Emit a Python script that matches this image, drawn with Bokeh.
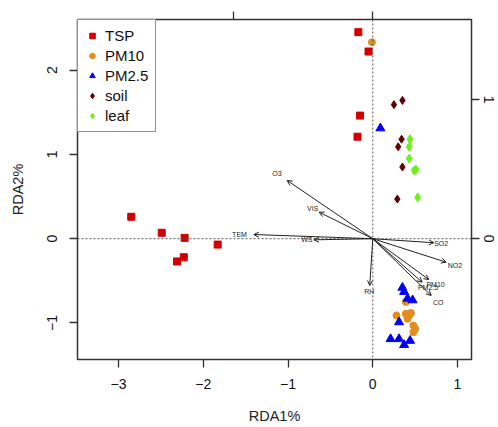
from bokeh.plotting import figure
from bokeh.models import (Range1d, LinearAxis, FixedTicker, Span, Arrow, OpenHead,
                          ColumnDataSource, Legend, LegendItem, LabelSet)
from bokeh.core.properties import value
from bokeh.embed import file_html
from bokeh.resources import INLINE

# ---- site scores (RDA1, RDA2) ----
tsp_x = [-0.17, -0.05, -0.15, -0.18, -2.85, -2.49, -2.22, -2.23, -2.31, -1.83]
tsp_y = [2.45, 2.22, 1.46, 1.21, 0.26, 0.07, 0.01, -0.22, -0.27, -0.07]

pm10_x = [-0.01, 0.39, 0.28, 0.39, 0.43, 0.41, 0.48, 0.50, 0.48, 0.45]
pm10_y = [2.33, -0.75, -0.91, -0.89, -0.91, -0.95, -1.03, -1.07, -1.11, -0.88]

pm25_x = [0.09, 0.35, 0.37, 0.41, 0.47, 0.31, 0.21, 0.31, 0.37, 0.44]
pm25_y = [1.31, -0.58, -0.63, -0.71, -0.73, -0.99, -1.19, -1.19, -1.26, -1.21]

soil_x = [0.25, 0.35, 0.34, 0.30, 0.35, 0.29]
soil_y = [1.59, 1.64, 1.18, 1.09, 0.85, 0.47]

leaf_x = [0.44, 0.43, 0.43, 0.49, 0.51, 0.53]
leaf_y = [1.18, 1.09, 0.95, 0.81, 0.82, 0.49]

# ---- environmental biplot arrows (secondary scale) ----
env_names = ["O3", "VIS", "TEM", "WS", "SO2", "NO2", "PM10", "PM2.5", "CO", "RH"]
env_x = [-0.616, -0.386, -0.856, -0.424, 0.439, 0.528, 0.403, 0.355, 0.420, -0.022]
env_y = [0.419, 0.191, 0.030, -0.008, -0.029, -0.169, -0.294, -0.313, -0.409, -0.337]

x_ticks = [-3, -2, -1, 0, 1]
y_ticks = [-1, 0, 1, 2]
top_ticks = [-1, 0]
right_ticks = [0, 1]

FONT = "Liberation Sans"

p = figure(width=498, height=427,
           x_range=Range1d(-3.484, 1.165), y_range=Range1d(-1.433, 2.600),
           output_backend="svg", toolbar_location=None,
           min_border_left=77, min_border_right=27, min_border_top=19, min_border_bottom=68)
p.extra_x_ranges = {"ax": Range1d(-2.124, 0.710)}
p.extra_y_ranges = {"ay": Range1d(-0.869, 1.577)}

p.xgrid.visible = False
p.ygrid.visible = False
p.outline_line_color = "#333333"
p.outline_line_width = 1.5
p.background_fill_color = "white"
p.border_fill_color = "white"

def style_axis(ax, ticks, label_size="14px"):
    ax.ticker = FixedTicker(ticks=ticks)
    ax.axis_line_color = None
    ax.major_tick_line_color = "#333333"
    ax.major_tick_line_width = 1.3
    ax.major_tick_in = 0
    ax.major_tick_out = 8
    ax.minor_tick_line_color = None
    ax.major_label_text_font = FONT
    ax.major_label_text_font_size = label_size
    ax.major_label_text_color = "#111111"
    ax.axis_label_text_font = FONT
    ax.axis_label_text_font_size = "14.5px"
    ax.axis_label_text_font_style = "normal"
    ax.axis_label_text_color = "#222222"

xa = p.xaxis[0]
style_axis(xa, x_ticks)
xa.axis_label = "RDA1%"
xa.major_label_standoff = 11
xa.axis_label_standoff = 16

ya = p.yaxis[0]
style_axis(ya, y_ticks)
ya.axis_label = "RDA2%"
ya.major_label_orientation = "vertical"
ya.major_label_standoff = 12
ya.axis_label_standoff = 19

top_ax = LinearAxis(x_range_name="ax")
style_axis(top_ax, top_ticks)
top_ax.major_label_overrides = {-1: "", 0: ""}
top_ax.major_label_standoff = 0
p.add_layout(top_ax, "above")

right_ax = LinearAxis(y_range_name="ay")
style_axis(right_ax, right_ticks)
right_ax.major_label_orientation = "vertical"
right_ax.major_label_standoff = 4
p.add_layout(right_ax, "right")

# dotted zero lines
p.add_layout(Span(location=0, dimension="width", line_color="#555555",
                  line_dash="2 2", line_width=1))
p.add_layout(Span(location=0, dimension="height", line_color="#555555",
                  line_dash="2 2", line_width=1))

# arrows
src = ColumnDataSource(dict(x0=[0] * len(env_x), y0=[0] * len(env_y),
                            x1=env_x, y1=env_y, name=env_names,
                            lx=[v * 1.12 for v in env_x], ly=[v * 1.12 for v in env_y]))
p.add_layout(Arrow(source=src, x_start="x0", y_start="y0", x_end="x1", y_end="y1",
                   x_range_name="ax", y_range_name="ay",
                   line_color="#222222", line_width=1,
                   end=OpenHead(size=5, line_color="#222222", line_width=1)))
p.add_layout(LabelSet(source=src, x="lx", y="ly", text="name",
                      x_range_name="ax", y_range_name="ay",
                      text_font=value(FONT), text_font_size="7px", text_color="#222222",
                      text_align="center", text_baseline="middle"))

# points
r_tsp = p.scatter(tsp_x, tsp_y, marker="square", size=7, color="#d10000")
r_pm10 = p.scatter(pm10_x, pm10_y, marker="circle", size=7, color="#e38d1e")
r_pm25 = p.scatter(pm25_x, pm25_y, marker="triangle", size=9, color="#0000ee")
r_soil = p.scatter(soil_x, soil_y, marker="diamond", size=8, color="#5e0000")
r_leaf = p.scatter(leaf_x, leaf_y, marker="diamond", size=9, color="#6cf020")

legend = Legend(items=[LegendItem(label="TSP", renderers=[r_tsp]),
                       LegendItem(label="PM10", renderers=[r_pm10]),
                       LegendItem(label="PM2.5", renderers=[r_pm25]),
                       LegendItem(label="soil", renderers=[r_soil]),
                       LegendItem(label="leaf", renderers=[r_leaf])],
                location="top_left", margin=0, padding=7, spacing=3,
                glyph_width=14, glyph_height=15, label_height=15, label_standoff=6,
                label_text_font=FONT, label_text_font_size="15px",
                label_text_color="#111111",
                border_line_color="#222222", border_line_width=1.2,
                background_fill_color="white", background_fill_alpha=1)
p.add_layout(legend, "center")

open("out.html", "w").write(file_html(p, INLINE))
